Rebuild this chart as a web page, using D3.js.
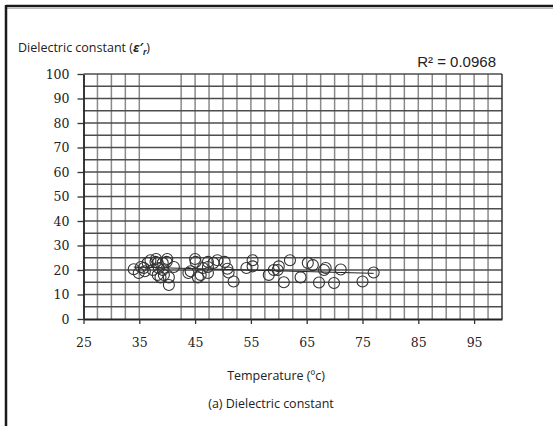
<!DOCTYPE html>
<html>
<head>
<meta charset="utf-8">
<script src="https://cdn.jsdelivr.net/npm/d3@7"></script>
<style>
  body { margin: 0; background: #fff; }
  svg { display: block; }
</style>
</head>
<body>
<script>
// dielectric constant vs. temperature
const temperature = [34.0, 34.9, 35.3, 35.8, 36.0, 36.5, 37.0, 37.4, 37.9, 38.0, 38.3, 38.3, 38.5, 38.8,
    39.2, 39.2, 39.4, 39.9, 40.0, 40.3, 40.3, 41.2, 43.8, 44.2, 45.0, 45.1, 45.5, 46.0, 46.4, 47.3,
    47.3, 47.3, 48.3, 49.0, 50.3, 50.8, 51.0, 51.9, 54.2, 55.3, 55.3, 58.2, 59.1, 59.8, 60.0, 60.9,
    62.0, 63.9, 65.2, 66.1, 67.2, 68.1, 68.4, 69.9, 71.1, 75.0, 77.0]
const dielectric = [20.3, 18.8, 21.2, 20.8, 19.5, 22.9, 24.0, 20.0, 23.3, 24.5, 18.0, 22.9, 20.8, 17.0,
    22.9, 20.0, 18.0, 23.3, 24.5, 13.9, 17.0, 21.2, 18.8, 19.5, 24.5, 23.3, 17.0, 18.0, 20.8, 21.2,
    23.3, 18.8, 22.9, 24.0, 23.3, 20.5, 19.0, 15.3, 20.8, 24.0, 21.5, 18.0, 20.0, 20.0, 21.5, 15.0,
    24.0, 17.0, 22.9, 22.0, 14.9, 20.0, 20.8, 14.7, 20.2, 15.3, 19.0]

const xTicks = [25, 35, 45, 55, 65, 75, 85, 95]
const yTicks = [0, 10, 20, 30, 40, 50, 60, 70, 80, 90, 100]
const rSquared = 'R² = 0.0968'

const [width, height] = [553, 426]

const svg = d3.select('body')
    .append('svg')
        .attr('width', width)
        .attr('height', height)

// frame round the figure (top and left only)
svg.append('line').attr('x1', 6).attr('x2', width).attr('y1', 6).attr('y2', 6)
    .attr('stroke', '#1a1a1a').attr('stroke-width', 2.5)
svg.append('line').attr('x1', 6).attr('x2', width).attr('y1', 8.5).attr('y2', 8.5)
    .attr('stroke', '#bbb').attr('stroke-width', 1)
svg.append('line').attr('x1', 6).attr('x2', 6).attr('y1', 5).attr('y2', height)
    .attr('stroke', '#1a1a1a').attr('stroke-width', 2.5)

const x = d3.scaleLinear().domain([25, 100]).range([83.5, 502])
const y = d3.scaleLinear().domain([0, 100]).range([319, 74])

const grid = svg.append('g')

// vertical grid every 2.5 deg, the original has a gap at 37.5 and 40
grid.selectAll('.vgrid')
    .data(d3.range(27.5, 100, 2.5).filter(v => v !== 37.5 && v !== 40))
    .enter()
    .append('line')
        .attr('x1', d => x(d)).attr('x2', d => x(d))
        .attr('y1', y(100)).attr('y2', y(0))
        .attr('stroke', '#8a8a8a')
        .attr('stroke-width', 1.5)

grid.selectAll('.hgrid')
    .data(d3.range(5, 101, 5))
    .enter()
    .append('line')
        .attr('x1', x(25)).attr('x2', x(100))
        .attr('y1', d => y(d)).attr('y2', d => y(d))
        .attr('stroke', '#4d4d4d')
        .attr('stroke-width', 1.5)

grid.append('line')
    .attr('x1', x(100)).attr('x2', x(100))
    .attr('y1', y(100)).attr('y2', y(0))
    .attr('stroke', '#333')
    .attr('stroke-width', 1.5)

const xAxis = svg.append('g')
    .attr('transform', `translate(0,${y(0)})`)
    .call(d3.axisBottom(x).tickValues(xTicks).tickSize(5).tickSizeOuter(0))
const yAxis = svg.append('g')
    .attr('transform', `translate(${x(25)},0)`)
    .call(d3.axisLeft(y).tickValues(yTicks).tickSize(6).tickSizeOuter(0))

for (const ax of [xAxis, yAxis]) {
    ax.select('.domain').attr('stroke', '#222').attr('stroke-width', 1.8)
    ax.selectAll('.tick line').attr('stroke', '#333').attr('stroke-width', 1.3)
    ax.selectAll('.tick text')
        .attr('fill', '#222')
        .style('font-family', '"DejaVu Serif", serif')
        .style('font-size', '12.5px')
}
xAxis.selectAll('.tick text').attr('y', 28).attr('dy', 0)
yAxis.selectAll('.tick text').attr('x', -14).attr('dy', '0.34em')

// linear trend line over the range of the data
const n = temperature.length
const mx = d3.mean(temperature), my = d3.mean(dielectric)
const slope = d3.sum(temperature, (t, i) => (t - mx) * (dielectric[i] - my)) /
    d3.sum(temperature, t => (t - mx) ** 2)
const icpt = my - slope * mx
const [tMin, tMax] = d3.extent(temperature)

svg.append('line')
    .attr('x1', x(tMin)).attr('x2', x(tMax))
    .attr('y1', y(icpt + slope * tMin)).attr('y2', y(icpt + slope * tMax))
    .attr('stroke', '#222')
    .attr('stroke-width', 1)

svg.append('g')
    .selectAll('circle')
    .data(d3.range(n))
    .enter()
    .append('circle')
        .attr('cx', i => x(temperature[i]))
        .attr('cy', i => y(dielectric[i]))
        .attr('r', 5.5)
        .attr('fill', 'none')
        .attr('stroke', '#333')
        .attr('stroke-width', 1.1)

const sans = '"Open Sans", sans-serif'

const yTitle = svg.append('text')
    .attr('x', 18).attr('y', 52)
    .attr('fill', '#222')
    .style('font-family', sans)
    .style('font-size', '12.5px')
yTitle.append('tspan').text('Dielectric constant (')
yTitle.append('tspan').text('ε′')
    .style('font-weight', 'bold').style('font-style', 'italic')
yTitle.append('tspan').text('r')
    .attr('dy', 3).style('font-size', '8px')
    .style('font-weight', 'bold').style('font-style', 'italic')
yTitle.append('tspan').text(')').attr('dy', -3)

svg.append('text')
    .attr('x', 496).attr('y', 67)
    .attr('text-anchor', 'end')
    .attr('fill', '#222')
    .style('font-family', '"Liberation Sans", Arial, sans-serif')
    .style('font-size', '15px')
    .text(rSquared)

svg.append('text')
    .attr('x', 276).attr('y', 380)
    .attr('text-anchor', 'middle')
    .attr('fill', '#222')
    .style('font-family', sans)
    .style('font-size', '12.5px')
    .text('Temperature (ºc)')

svg.append('text')
    .attr('x', 271).attr('y', 408)
    .attr('text-anchor', 'middle')
    .attr('fill', '#222')
    .style('font-family', sans)
    .style('font-size', '12.5px')
    .text('(a) Dielectric constant')
</script>
</body>
</html>
